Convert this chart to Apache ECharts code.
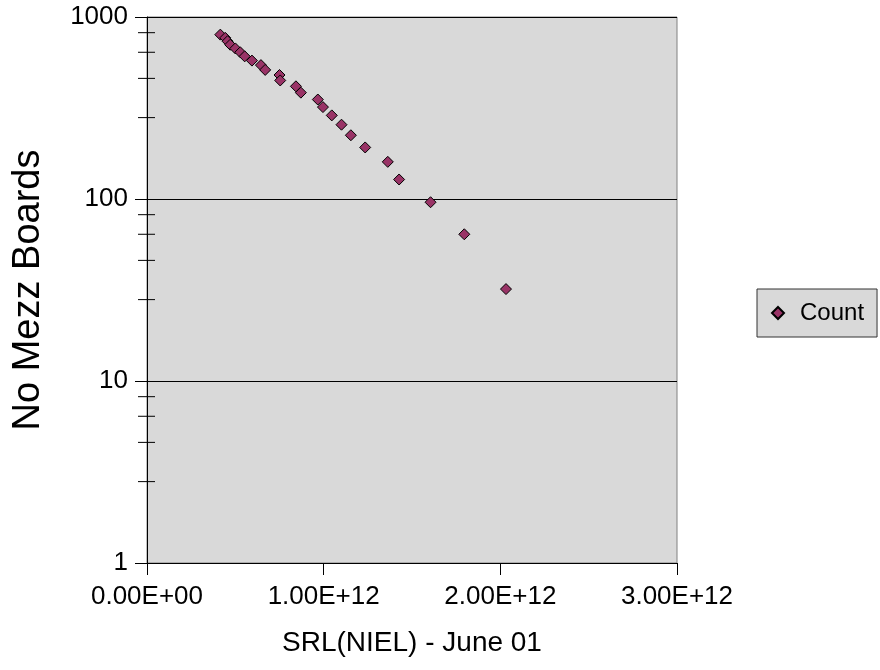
<!DOCTYPE html>
<html>
<head>
<meta charset="utf-8">
<script src="https://cdn.jsdelivr.net/npm/echarts@6/dist/echarts.min.js"></script>
<style>
html,body{margin:0;padding:0;background:#fff;}
#chart{width:880px;height:670px;}
</style>
</head>
<body>
<div id="chart"></div>
<script>
// SRL(NIEL) values (x) and board counts (y)
var srlValues = [0.415e12, 0.443e12, 0.456e12, 0.471e12, 0.500e12, 0.528e12, 0.553e12, 0.594e12, 0.645e12, 0.669e12,
                 0.750e12, 0.754e12, 0.843e12, 0.871e12, 0.967e12, 0.996e12, 1.046e12, 1.101e12, 1.154e12, 1.235e12,
                 1.363e12, 1.427e12, 1.605e12, 1.796e12, 2.032e12];
var countValues = [800, 768, 736, 704, 672, 640, 608, 576, 544, 512,
                   480, 448, 416, 384, 352, 320, 288, 256, 224, 192,
                   160, 128, 96, 64, 32];
var xTickLabels = ['0.00E+00', '1.00E+12', '2.00E+12', '3.00E+12'];
var yTickLabels = ['1', '10', '100', '1000'];
var minorTickValues = [2.8, 4.6, 6.4, 8.2, 28, 46, 64, 82, 280, 460, 640, 820];

var FONT = "'Liberation Sans', Arial, sans-serif";
var chart = echarts.init(document.getElementById('chart'), null, {renderer: 'canvas'});

var points = srlValues.map(function (x, i) { return [x, countValues[i]]; });

chart.setOption({
  animation: false,
  backgroundColor: '#ffffff',
  grid: {
    left: 147, right: 203, top: 17, bottom: 107,
    show: true, backgroundColor: '#d9d9d9', borderColor: '#808080', borderWidth: 1
  },
  legend: {
    data: ['Count'],
    orient: 'vertical',
    left: 757, top: 289,
    padding: [12, 13, 12, 14],
    backgroundColor: '#d9d9d9',
    borderColor: '#333333', borderWidth: 1,
    borderRadius: 0,
    itemWidth: 12, itemHeight: 12,
    icon: 'diamond',
    textStyle: {fontFamily: FONT, fontSize: 24, color: '#000', padding: [0, 0, 0, 11]}
  },
  xAxis: {
    type: 'value',
    min: 0, max: 3e12, interval: 1e12,
    name: 'SRL(NIEL) - June 01',
    nameLocation: 'middle',
    nameGap: 66,
    nameTextStyle: {fontFamily: FONT, fontSize: 28, color: '#000'},
    axisLine: {show: true, onZero: false, lineStyle: {color: '#000', width: 1}},
    axisTick: {show: true, inside: false, length: 12, lineStyle: {color: '#000'}},
    axisLabel: {
      fontFamily: FONT, fontSize: 26, color: '#000', margin: 21,
      formatter: function (v) { return xTickLabels[Math.round(v / 1e12)]; }
    },
    splitLine: {show: false}
  },
  yAxis: {
    type: 'log', logBase: 10,
    min: 1, max: 1000,
    name: 'No Mezz Boards',
    nameLocation: 'middle',
    nameGap: 99,
    nameTextStyle: {fontFamily: FONT, fontSize: 38, color: '#000'},
    axisLine: {show: true, lineStyle: {color: '#000', width: 1}},
    axisTick: {show: true, inside: false, length: 12, lineStyle: {color: '#000'}},
    axisLabel: {
      fontFamily: FONT, fontSize: 26, color: '#000', margin: 19,
      formatter: function (v) { return yTickLabels[Math.round(Math.log(v) / Math.LN10)]; }
    },
    splitLine: {show: true, lineStyle: {color: '#000', width: 1}},
    minorTick: {show: false}
  },
  series: [
    {
      name: 'Count',
      type: 'scatter',
      symbol: 'diamond',
      symbolSize: 11,
      itemStyle: {color: '#993366', borderColor: '#000', borderWidth: 1, opacity: 1},
      data: points,
      z: 5
    },
    {
      name: 'minorTicks',
      type: 'custom',
      silent: true,
      clip: false,
      z: 4,
      data: minorTickValues.map(function (v) { return [0, v]; }),
      renderItem: function (params, api) {
        var p = api.coord([0, api.value(1)]);
        return {
          type: 'line',
          shape: {x1: p[0] - 9, y1: p[1], x2: p[0] + 8, y2: p[1]},
          style: {stroke: '#000', lineWidth: 1}
        };
      }
    }
  ]
});
</script>
</body>
</html>
